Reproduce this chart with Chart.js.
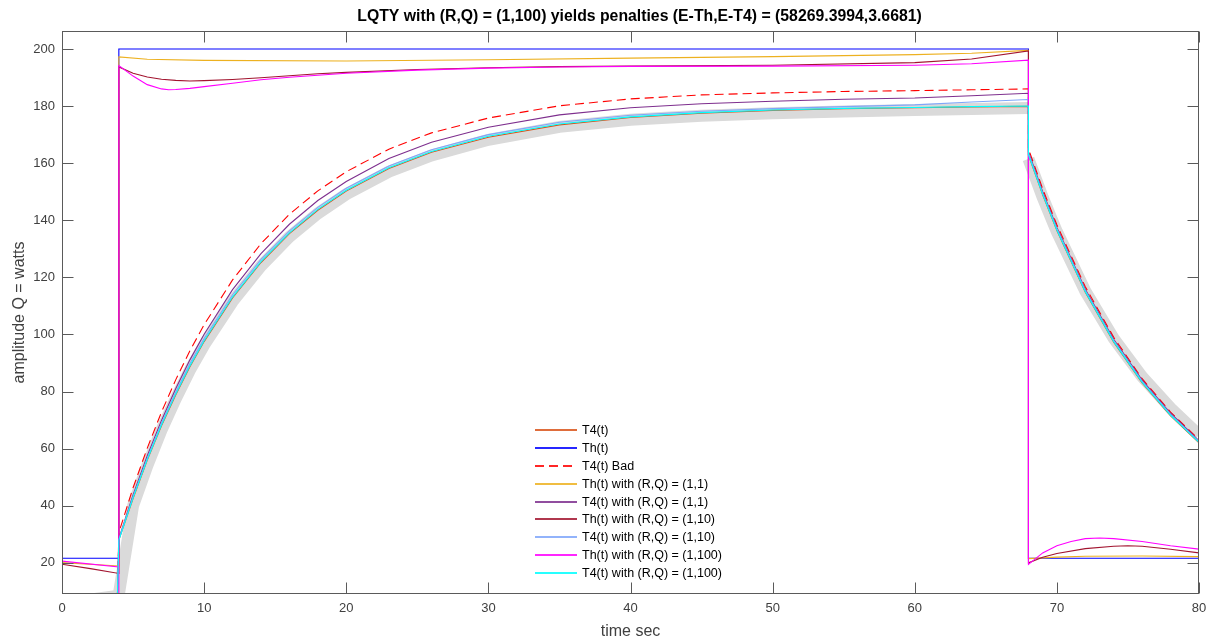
<!DOCTYPE html>
<html>
<head>
<meta charset="utf-8">
<script src="https://cdn.jsdelivr.net/npm/chart.js@4.4.1/dist/chart.umd.min.js"></script>
<style>
  html, body { margin: 0; padding: 0; background: #ffffff; }
  #wrap { position: relative; width: 1209px; height: 641px; }
  #legend { position: absolute; left: 533px; top: 421px; font-family: "Liberation Sans", Arial, sans-serif; font-size: 12.5px; color: #000; }
  .item { display: flex; align-items: center; height: 17.9px; white-space: nowrap; }
  .swatch { display: block; width: 42px; height: 2px; margin-left: 2px; margin-right: 5px; flex: none; }
</style>
</head>
<body>
<div id="wrap">
  <canvas id="c" width="1209" height="641"></canvas>
  <div id="legend"></div>
</div>
<script>
// ---------- data ----------
const xTickValues = [0, 10, 20, 30, 40, 50, 60, 70, 80];
const yTickValues = [20, 40, 60, 80, 100, 120, 140, 160, 180, 200];

// time samples for the T4 curves (rise 4..68, fall 68..80)
const tT4 = [0, 3.9, 4, 5, 6, 7, 8, 9, 10, 12, 14, 16, 18, 20, 23, 26, 30, 35, 40, 45, 50, 55, 60, 64, 68, 68, 69, 70, 72, 74, 76, 78, 80];

const t4 =        [2, 8.3, 28.0, 42.5, 56.0, 68.0, 78.8, 88.7, 97.5, 112.8, 125.2, 135.3, 143.5, 150.2, 158.1, 163.8, 169.1, 173.4, 176.0, 177.5, 178.5, 179.1, 179.4, 179.7, 179.9, 162.8, 148.9, 136.4, 114.8, 97.3, 83.0, 71.5, 62.0];
const t4Bad =     [2, 8.6, 30.6, 46.3, 60.2, 72.8, 84.1, 94.3, 103.4, 119.1, 131.8, 142.1, 150.3, 157.0, 164.9, 170.6, 175.8, 180.1, 182.5, 183.9, 184.6, 185.1, 185.4, 185.7, 186.0, 165.0, 151.0, 138.4, 116.7, 99.0, 84.5, 72.8, 63.2];
const t4RQ1 =     [2, 8.4, 28.5, 43.8, 57.5, 69.9, 81.0, 91.1, 100.1, 115.7, 128.3, 138.6, 146.9, 153.6, 161.6, 167.3, 172.6, 176.9, 179.4, 180.8, 181.7, 182.4, 182.8, 183.6, 184.5, 164.0, 150.0, 137.5, 115.8, 98.3, 84.0, 72.4, 62.8];
const t4RQ10 =    [2, 8.3, 28.2, 43.2, 56.7, 68.9, 79.8, 89.8, 98.6, 113.9, 126.3, 136.3, 144.5, 151.2, 159.0, 164.7, 170.0, 174.3, 176.8, 178.2, 179.1, 179.8, 180.4, 181.4, 182.3, 163.5, 149.5, 137.0, 115.4, 97.9, 83.6, 72.0, 62.5];
const t4RQ100 =   [2, 8.3, 28.0, 42.8, 56.2, 68.3, 79.1, 89.0, 97.8, 113.1, 125.5, 135.6, 143.8, 150.5, 158.4, 164.1, 169.4, 173.7, 176.2, 177.7, 178.6, 179.2, 179.5, 179.8, 180.0, 163.0, 149.1, 136.6, 115.0, 97.5, 83.2, 71.7, 62.2];

// grey reference band (null = break in the band)
const tRef = [0, 4, 4, 4, 5, 6, 7, 8, 9, 10, 12, 14, 16, 18, 20, 23, 26, 30, 35, 40, 45, 50, 55, 60, 64, 68, 68, 68, 69, 70, 72, 74, 76, 78, 80];
const ref =  [5.8, 8.5, null, 9.0, 40.0, 54.0, 66.5, 77.5, 87.5, 96.3, 111.5, 124.0, 134.2, 142.4, 149.1, 157.0, 162.7, 168.2, 172.7, 175.2, 176.6, 177.5, 178.1, 178.6, 179.0, 179.3, null, 161.5, 148.0, 136.0, 115.2, 98.6, 85.2, 74.2, 64.8];

// Th(t)
const tTh = [0, 4, 4, 68, 68, 80];
const th =  [21.6, 21.6, 200, 200, 21.6, 21.6];

// Th(t) with (R,Q) = (1,1)
const tThRQ1 = [0, 4, 4, 6, 10, 20, 30, 40, 50, 60, 64, 68, 68, 70, 72, 76, 80];
const thRQ1 =  [20.1, 18.9, 197.2, 196.4, 196.0, 195.8, 196.2, 196.8, 197.3, 198.0, 198.5, 199.5, 21.5, 22.0, 22.3, 22.4, 22.2];

// Th(t) with (R,Q) = (1,10)
const tThRQ10 = [0, 2, 4, 4, 5, 6, 7, 8, 9, 10, 12, 14, 16, 18, 20, 25, 30, 35, 40, 50, 60, 64, 68, 68, 69, 70, 72, 74, 75, 76, 78, 80];
const thRQ10 =  [19.5, 18.0, 16.3, 193.7, 191.5, 190.2, 189.4, 189.0, 188.8, 188.9, 189.3, 189.9, 190.6, 191.3, 191.8, 192.8, 193.4, 193.8, 194.0, 194.3, 195.2, 196.5, 199.3, 20.0, 22.0, 23.3, 25.0, 25.8, 26.0, 25.8, 24.8, 23.5];

// Th(t) with (R,Q) = (1,100)
const tThRQ100 = [0, 4, 4, 4, 5, 6, 7, 7.5, 8, 9, 10, 12, 14, 16, 18, 20, 25, 30, 35, 40, 50, 60, 64, 68, 68, 69, 70, 71, 72, 73, 74, 76, 78, 80];
const thRQ100 =  [20.6, 18.6, 5.0, 194.2, 190.5, 187.5, 186.0, 185.7, 185.8, 186.2, 186.8, 188.0, 189.2, 190.1, 190.8, 191.5, 192.6, 193.3, 193.7, 193.9, 194.0, 194.3, 194.8, 196.1, 19.5, 23.5, 26.0, 27.5, 28.5, 28.7, 28.5, 27.5, 26.0, 24.8];

const seriesNames = ['T4(t)', 'Th(t)', 'T4(t) Bad', 'Th(t) with (R,Q) = (1,1)', 'T4(t) with (R,Q) = (1,1)', 'Th(t) with (R,Q) = (1,10)', 'T4(t) with (R,Q) = (1,10)', 'Th(t) with (R,Q) = (1,100)', 'T4(t) with (R,Q) = (1,100)'];
const seriesColors = ['#D95319', '#0000FF', '#FF0000', '#EDB120', '#7E2F8E', '#A2142F', '#7FA6FA', '#FF00FF', '#00FFFF'];
const titleText = 'LQTY with (R,Q) = (1,100) yields penalties (E-Th,E-T4) = (58269.3994,3.6681)';

// ---------- build ----------
const pts = (xs, ys) => xs.map((x, i) => ({ x: x, y: ys[i] }));
const seriesData = [
  pts(tT4, t4), pts(tTh, th), pts(tT4, t4Bad), pts(tThRQ1, thRQ1), pts(tT4, t4RQ1),
  pts(tThRQ10, thRQ10), pts(tT4, t4RQ10), pts(tThRQ100, thRQ100), pts(tT4, t4RQ100)
];

const datasets = [{
  label: 'reference',
  data: pts(tRef, ref),
  borderColor: '#DADADA',
  borderWidth: 12,
  order: 20,
  clip: 0,
  spanGaps: false,
  borderCapStyle: 'butt'
}];
seriesNames.forEach((name, i) => {
  datasets.push({
    label: name,
    data: seriesData[i],
    borderColor: seriesColors[i],
    borderWidth: 1.1,
    borderDash: i === 2 ? [9, 5] : [],
    order: 10 - i,
    clip: 0
  });
});

const frame = {
  id: 'frame',
  afterLayout(chart) {
    if (chart.titleBlock) { chart.titleBlock.left += 9; chart.titleBlock.right += 9; }
  },
  afterDatasetsDraw(chart) {
    const { ctx, chartArea: a, scales: { x, y } } = chart;
    const L = Math.round(a.left) + 0.5, R = Math.round(a.right) - 0.5;
    const T = Math.round(a.top) + 0.5, B = Math.round(a.bottom) - 0.5;
    ctx.save();
    ctx.strokeStyle = '#5a5a5a';
    ctx.lineWidth = 1;
    ctx.strokeRect(L, T, R - L, B - T);
    ctx.beginPath();
    xTickValues.forEach(v => {
      const p = Math.round(x.getPixelForValue(v)) + 0.5;
      ctx.moveTo(p, B); ctx.lineTo(p, B - 11);
      ctx.moveTo(p, T); ctx.lineTo(p, T + 11);
    });
    yTickValues.forEach(v => {
      const p = Math.round(y.getPixelForValue(v)) + 0.5;
      ctx.moveTo(L, p); ctx.lineTo(L + 11, p);
      ctx.moveTo(R, p); ctx.lineTo(R - 11, p);
    });
    ctx.stroke();
    ctx.restore();
  }
};

const sans = '"Liberation Sans", Arial, sans-serif';

new Chart(document.getElementById('c'), {
  type: 'line',
  data: { datasets },
  plugins: [frame],
  options: {
    responsive: false,
    devicePixelRatio: 1,
    animation: false,
    layout: { padding: { left: 0, right: 10, top: 0, bottom: 0 } },
    elements: { point: { radius: 0 }, line: { tension: 0 } },
    plugins: {
      legend: { display: false },
      tooltip: { enabled: false },
      title: {
        display: true,
        fullSize: false,
        text: titleText,
        color: '#000',
        font: { family: sans, size: 15.8, weight: 'bold' },
        padding: { top: 7, bottom: 5 }
      }
    },
    scales: {
      x: {
        type: 'linear', min: 0, max: 80,
        grid: { display: false, drawTicks: false },
        border: { display: false },
        afterBuildTicks: s => { s.ticks = xTickValues.map(v => ({ value: v })); },
        afterFit: s => { s.height = 47; s.paddingLeft = 0; s.paddingRight = 0; },
        ticks: { color: '#404040', font: { family: sans, size: 13 }, padding: 7, maxRotation: 0 },
        title: { display: true, text: 'time sec', color: '#404040', font: { family: sans, size: 16 }, padding: { top: 0, bottom: 0 } }
      },
      y: {
        type: 'linear', min: 9.1, max: 206.3,
        grid: { display: false, drawTicks: false },
        border: { display: false },
        afterBuildTicks: s => { s.ticks = yTickValues.map(v => ({ value: v })); },
        afterFit: s => { s.width = 62; s.paddingTop = 0; s.paddingBottom = 0; },
        ticks: { color: '#404040', font: { family: sans, size: 13 }, padding: 7 },
        title: { display: true, text: 'amplitude Q = watts', color: '#404040', font: { family: sans, size: 16 }, padding: { top: 10, bottom: 0 } }
      }
    }
  }
});

// HTML legend
const leg = document.getElementById('legend');
seriesNames.forEach((name, i) => {
  const row = document.createElement('div');
  row.className = 'item';
  const sw = document.createElement('span');
  sw.className = 'swatch';
  if (i === 2) {
    sw.style.background = 'repeating-linear-gradient(to right, ' + seriesColors[i] + ' 0px, ' + seriesColors[i] + ' 9px, transparent 9px, transparent 14px)';
  } else {
    sw.style.background = seriesColors[i];
  }
  sw.style.opacity = '0.85';
  const tx = document.createElement('span');
  tx.textContent = name;
  row.appendChild(sw); row.appendChild(tx);
  leg.appendChild(row);
});
</script>
</body>
</html>
